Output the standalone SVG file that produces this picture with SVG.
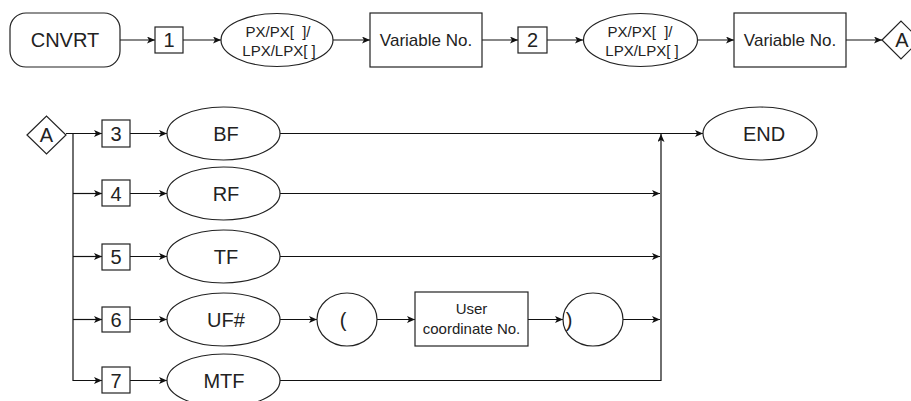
<svg xmlns="http://www.w3.org/2000/svg" width="911" height="401" viewBox="0 0 911 401">
<style>
.s{fill:#fff;stroke:#222;stroke-width:1.2}
.t{font-family:"Liberation Sans",Arial,sans-serif;fill:#222;text-anchor:middle}
.c{fill:none;stroke:#111;stroke-width:1.2;marker-end:url(#ah)}
.n{fill:none;stroke:#111;stroke-width:1.2}
</style>
<defs>
<marker id="ah" markerUnits="userSpaceOnUse" markerWidth="10" markerHeight="8" refX="8" refY="3.5" orient="auto">
<path d="M0,0 L8,3.5 L0,7 L2,3.5 z" fill="#111"/>
</marker>
</defs>
<rect width="911" height="401" fill="#fff"/>
<g id="connectors">
<path class="c" d="M120,40 H155"/>
<path class="c" d="M183,40 H221"/>
<path class="c" d="M333,40 H370"/>
<path class="c" d="M482,40 H518"/>
<path class="c" d="M547,40 H583"/>
<path class="c" d="M698,40 H734"/>
<path class="c" d="M846,40 H882"/>
<path class="c" d="M66,133.5 H102"/>
<path class="c" d="M73,133.5 V380.5 H102"/>
<path class="c" d="M73,193.5 H102"/>
<path class="c" d="M73,256.5 H102"/>
<path class="c" d="M73,319.5 H102"/>
<path class="c" d="M130,133.5 H167"/>
<path class="c" d="M130,193.5 H167"/>
<path class="c" d="M130,256.5 H167"/>
<path class="c" d="M130,319.5 H167"/>
<path class="c" d="M130,380.5 H167"/>
<path class="c" d="M280,133.5 H703"/>
<path class="c" d="M280,193.5 H660"/>
<path class="c" d="M280,256.5 H660"/>
<path class="c" d="M280,319.5 H317"/>
<path class="c" d="M377,319.5 H415"/>
<path class="c" d="M528,319.5 H563"/>
<path class="c" d="M623,319.5 H660"/>
<path class="c" d="M280,380.5 H661 V134"/>
</g>
<g id="cnvrt"><rect class="s" x="10" y="13" width="110" height="54" rx="16"/><text class="t" x="65" y="47" font-size="20">CNVRT</text></g>
<g id="n1"><rect class="s" x="155" y="27" width="28" height="26"/><text class="t" x="169" y="47" font-size="20">1</text></g>
<g id="px1"><ellipse class="s" cx="277" cy="40" rx="56" ry="26.5"/><text class="t" x="278" y="37" font-size="15" xml:space="preserve">PX/PX[  ]/</text><text class="t" x="279" y="56" font-size="15" xml:space="preserve">LPX/LPX[ ]</text></g>
<g id="var1"><rect class="s" x="370" y="13" width="112" height="54"/><text class="t" x="426" y="46" font-size="17">Variable No.</text></g>
<g id="n2"><rect class="s" x="518" y="27" width="29" height="26"/><text class="t" x="532.5" y="47" font-size="20">2</text></g>
<g id="px2"><ellipse class="s" cx="640.5" cy="40" rx="57" ry="26.5"/><text class="t" x="640" y="37" font-size="15" xml:space="preserve">PX/PX[  ]/</text><text class="t" x="642" y="56" font-size="15" xml:space="preserve">LPX/LPX[ ]</text></g>
<g id="var2"><rect class="s" x="734" y="13" width="112" height="54"/><text class="t" x="790" y="46" font-size="17">Variable No.</text></g>
<g id="a1"><path class="s" d="M882,40 L901,21 L920,40 L901,59 z"/><text class="t" x="902" y="47" font-size="20">A</text></g>
<g id="a2"><path class="s" d="M27,135 L46.5,116 L66,135 L46.5,154 z"/><text class="t" x="46.5" y="142" font-size="20">A</text></g>
<g id="n3"><rect class="s" x="102" y="120" width="28" height="27"/><text class="t" x="116" y="141" font-size="20">3</text></g>
<g id="n4"><rect class="s" x="102" y="180" width="28" height="26"/><text class="t" x="116" y="201" font-size="20">4</text></g>
<g id="n5"><rect class="s" x="102" y="244" width="28" height="26"/><text class="t" x="116" y="264" font-size="20">5</text></g>
<g id="n6"><rect class="s" x="102" y="307" width="28" height="25"/><text class="t" x="116" y="327" font-size="20">6</text></g>
<g id="n7"><rect class="s" x="102" y="367" width="28" height="26"/><text class="t" x="116" y="388" font-size="20">7</text></g>
<g id="bf"><ellipse class="s" cx="223.5" cy="133.5" rx="56.5" ry="26.5"/><text class="t" x="226" y="141" font-size="20">BF</text></g>
<g id="rf"><ellipse class="s" cx="223.5" cy="193.5" rx="56.5" ry="26.5"/><text class="t" x="226" y="201" font-size="20">RF</text></g>
<g id="tf"><ellipse class="s" cx="223.5" cy="256.5" rx="56.5" ry="26.5"/><text class="t" x="226" y="264" font-size="20">TF</text></g>
<g id="uf"><ellipse class="s" cx="223.5" cy="319.5" rx="56.5" ry="26.5"/><text class="t" x="226" y="327" font-size="20">UF#</text></g>
<g id="mtf"><ellipse class="s" cx="223.5" cy="380.5" rx="56.5" ry="26.5"/><text class="t" x="224" y="388" font-size="20">MTF</text></g>
<g id="end"><ellipse class="s" cx="760" cy="133.5" rx="57" ry="26.5"/><text class="t" x="764" y="141" font-size="20">END</text></g>
<g id="lp"><ellipse class="s" cx="347" cy="319.5" rx="30" ry="26.5"/><text class="t" x="343" y="327" font-size="20">(</text></g>
<g id="ucn"><rect class="s" x="415" y="292" width="113" height="54"/><text class="t" x="471.5" y="314" font-size="15">User</text><text class="t" x="471.5" y="334" font-size="15">coordinate No.</text></g>
<g id="rp"><ellipse class="s" cx="593" cy="319.5" rx="30" ry="26.5"/><text class="t" x="569" y="327" font-size="20">)</text></g>
</svg>
